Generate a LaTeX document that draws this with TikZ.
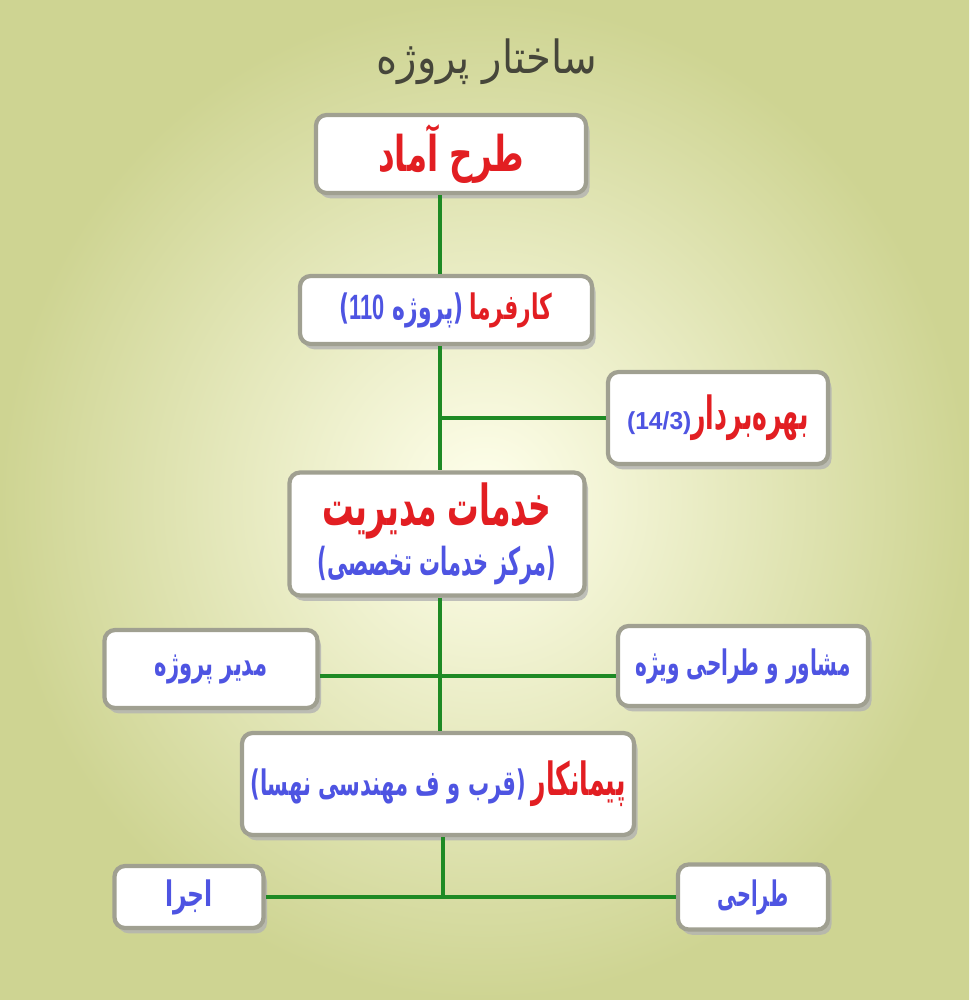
\documentclass[tikz,border=0pt]{standalone}
\usepackage{fontspec}
\usepackage{xcolor}
\usepackage{graphicx}
\usetikzlibrary{shadows}
\TeXXeTstate=1
\newfontfamily\fa[Script=Arabic]{DejaVu Sans}
\newfontfamily\lat{Liberation Sans}
\newcommand{\squeeze}[2]{\scalebox{#1}[1]{#2}}
\definecolor{bgedge}{RGB}{206,212,146}
\definecolor{bgmid}{RGB}{255,255,236}
\definecolor{boxred}{RGB}{226,30,34}
\definecolor{boxblue}{RGB}{78,84,226}
\definecolor{titlegray}{RGB}{70,70,58}
\definecolor{linegreen}{RGB}{30,138,36}
\definecolor{boxedge}{RGB}{160,160,145}

\begin{document}
\begin{tikzpicture}[
    box/.style={draw=boxedge, line width=1.2pt, fill=white, rounded corners=3pt,
        drop shadow={shadow xshift=1pt, shadow yshift=-1.5pt, fill=gray!60, opacity=0.8},
        inner sep=0pt, align=center, font=\fa\bfseries\fontsize{10}{12}\selectfont},
    link/.style={draw=linegreen, line width=1.1pt}
]
    % background
    \shade[inner color=bgmid, outer color=bgedge] (0,0) rectangle (9.69,-10);

    \node[text=titlegray, font=\fa\fontsize{13}{16}\selectfont] (title) at (4.87,-0.62) {\squeeze{0.88}{\beginR ساختار پروژه\endR}};

    \node[box, minimum width=2.70cm, minimum height=0.78cm, text=boxred,
        font=\fa\bfseries\fontsize{14}{17}\selectfont] (tarh) at (4.51,-1.54) {\squeeze{0.66}{\beginR طرح آماد\endR}};
    \node[box, minimum width=2.92cm, minimum height=0.68cm] (karfarma) at (4.46,-3.10)
        {{\color{boxblue}\squeeze{0.62}{\beginR(پروژه \beginL{\lat\bfseries 110}\endL)\endR}}\,{\color{boxred}\squeeze{0.62}{\beginR کارفرما\endR}}};
    \node[box, minimum width=2.20cm, minimum height=0.92cm] (bahre) at (7.18,-4.18)
        {{\color{boxblue}\lat\fontsize{7}{9}\selectfont(14/3)}{\color{boxred}\fontsize{13}{15}\selectfont\squeeze{0.55}{\beginR بهره‌بردار\endR}}};
    \node[box, minimum width=2.95cm, minimum height=1.23cm] (khadamat) at (4.37,-5.34)
        {{\color{boxred}\fontsize{16}{19}\selectfont\squeeze{0.56}{\beginR خدمات مدیریت\endR}}\\[1pt]
         {\color{boxblue}\fontsize{11}{13}\selectfont\squeeze{0.54}{\beginR(مرکز خدمات تخصصی)\endR}}};

    \node[box, minimum width=2.13cm, minimum height=0.78cm, text=boxblue] (modir) at (2.11,-6.69) {\squeeze{0.6}{\beginR مدیر پروژه\endR}};
    \node[box, minimum width=2.50cm, minimum height=0.80cm, text=boxblue] (moshaver) at (7.43,-6.66) {\squeeze{0.57}{\beginR مشاور و طراحی ویژه\endR}};

    \node[box, minimum width=3.92cm, minimum height=1.02cm] (peyman) at (4.38,-7.84)
        {{\color{boxblue}\squeeze{0.6}{\beginR(قرب و ف مهندسی نهسا)\endR}}\,{\color{boxred}\fontsize{13}{15}\selectfont\squeeze{0.55}{\beginR پیمانکار\endR}}};

    \node[box, minimum width=1.49cm, minimum height=0.62cm, text=boxblue] (ejra) at (1.89,-8.97) {\squeeze{0.67}{\beginR اجرا\endR}};
    \node[box, minimum width=1.50cm, minimum height=0.65cm, text=boxblue] (tarahi) at (7.53,-8.97) {\squeeze{0.55}{\beginR طراحی\endR}};

    % connectors
    \coordinate (trunk) at (4.40,-6.76);
    \coordinate (foot) at (4.43,-8.97);
    \draw[link] (tarh.south -| trunk) -- (karfarma.north -| trunk);
    \draw[link] (karfarma.south -| trunk) -- (khadamat.north -| trunk);
    \draw[link] (bahre.west) -- (bahre.west -| trunk);
    \draw[link] (khadamat.south -| trunk) -- (peyman.north -| trunk);
    \draw[link] (modir.east |- trunk) -- (moshaver.west |- trunk);
    \draw[link] (peyman.south -| foot) -- (foot);
    \draw[link] (ejra.east) -- (tarahi.west);
\end{tikzpicture}
\end{document}
